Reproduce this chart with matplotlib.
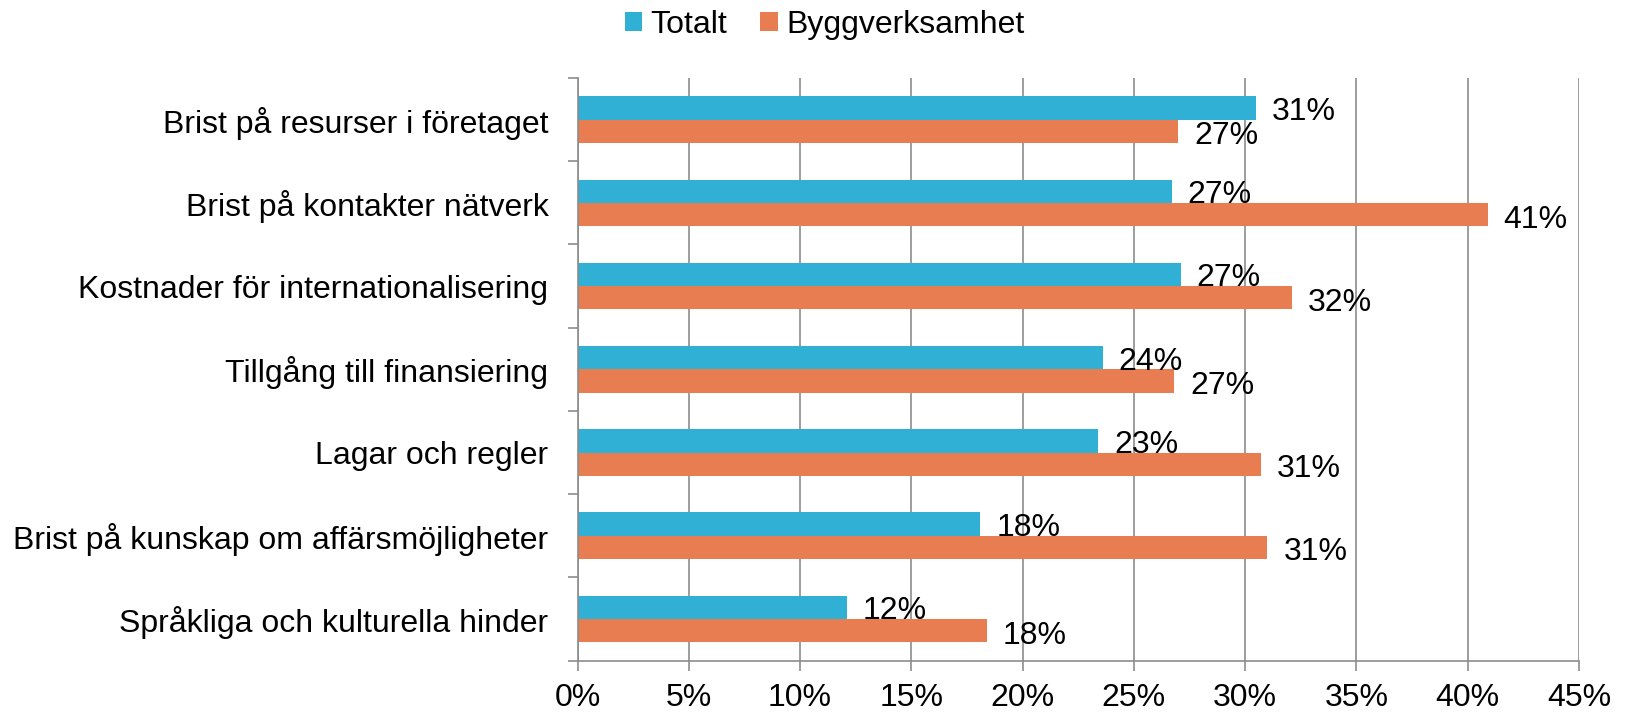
import numpy as np
import matplotlib.pyplot as plt
from matplotlib.ticker import FixedLocator

# Données
categories = ['Brist på resurser i företaget', 'Brist på kontakter nätverk',
              'Kostnader för internationalisering', 'Tillgång till finansiering',
              'Lagar och regler', 'Brist på kunskap om affärsmöjligheter',
              'Språkliga och kulturella hinder']
totalt = [30.5, 26.7, 27.1, 23.6, 23.4, 18.1, 12.1]
bygg = [27.0, 40.9, 32.1, 26.8, 30.7, 31.0, 18.4]
totalt_labels = ['31%', '27%', '27%', '24%', '23%', '18%', '12%']
bygg_labels = ['27%', '41%', '32%', '27%', '31%', '31%', '18%']
x_ticks = [0, 5, 10, 15, 20, 25, 30, 35, 40, 45]

bleu = '#31B0D6'
orange = '#E87D52'
gris = '#8C8C8C'
taille = 23

plt.rcParams['font.family'] = ['Liberation Sans', 'DejaVu Sans']

fig = plt.figure(figsize=(16.26, 7.12), dpi=100)
ax = fig.add_axes([0.3552, 0.0722, 0.6158, 0.8182])

y = np.arange(len(categories))
h = 0.28
b1 = ax.barh(y - h / 2, totalt, height=h, color=bleu, label='Totalt')
b2 = ax.barh(y + h / 2, bygg, height=h, color=orange, label='Byggverksamhet')

# étiquettes de valeur
for rect, lab in zip(b1, totalt_labels):
    ax.annotate(lab, (rect.get_width(), rect.get_y() + rect.get_height() / 2),
                xytext=(16, -4), textcoords='offset pixels', ha='left', va='center',
                fontsize=taille)
for rect, lab in zip(b2, bygg_labels):
    ax.annotate(lab, (rect.get_width(), rect.get_y() + rect.get_height() / 2),
                xytext=(16, -5), textcoords='offset pixels', ha='left', va='center',
                fontsize=taille)

ax.set_xlim(0, 45)
ax.set_ylim(len(categories) - 0.5, -0.5)
ax.set_xticks(x_ticks)
ax.set_xticklabels([f'{t}%' for t in x_ticks], fontsize=taille)
ax.set_yticks(y)
ax.set_yticklabels(categories, fontsize=taille)
ax.yaxis.set_minor_locator(FixedLocator(np.arange(-0.5, len(categories), 1)))
ax.tick_params(axis='y', which='major', length=0, pad=21)
ax.tick_params(axis='y', which='minor', length=7, color=gris, width=1.2)
ax.tick_params(axis='x', length=7, color=gris, width=1.2, pad=9)

ax.grid(axis='x', color=gris, linewidth=1.2)
ax.set_axisbelow(True)
for s in ['top', 'right']:
    ax.spines[s].set_visible(False)
for s in ['left', 'bottom']:
    ax.spines[s].set_color(gris)
    ax.spines[s].set_linewidth(1.2)

fig.legend(handles=[b1, b2], loc='center', bbox_to_anchor=(0.507, 0.965), ncol=2,
           frameon=False, fontsize=taille, handlelength=0.55, handleheight=0.55,
           handletextpad=0.25, columnspacing=1.05)

fig.savefig('out.png', dpi=100)
